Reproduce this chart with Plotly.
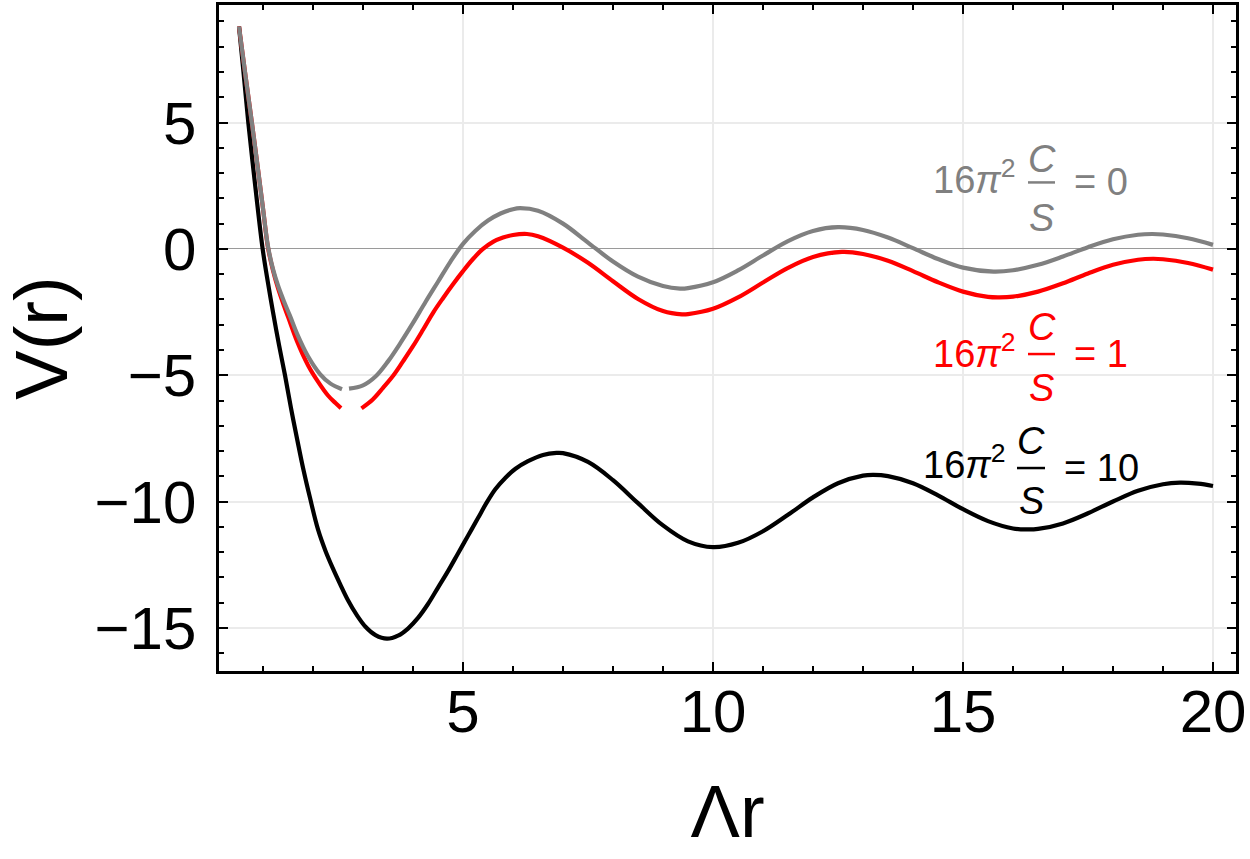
import plotly.graph_objects as go

# ---- data ----
gray_x = [0.52, 0.65, 0.777, 0.9, 1.0, 1.1, 1.2, 1.3, 1.42, 1.54, 1.68, 1.9, 2.14, 2.35, 2.58, None,
          2.72, 3.0, 3.25, 3.5, 3.75, 4.0, 4.25, 4.5, 4.75, 5.0, 5.25, 5.5, 5.75, 6.0, 6.14,
          6.5, 7.0, 7.5, 8.0, 8.5, 9.0, 9.34, 9.5, 10.0, 10.5, 11.0, 11.5, 12.0, 12.5,
          13.0, 13.5, 14.0, 14.5, 15.0, 15.61, 16.0, 16.5, 17.0, 17.5, 18.0, 18.5, 18.78,
          19.0, 19.5, 20.0]
gray_v = [8.8, 6.85, 5.0, 3.15, 1.6, 0.1, -0.8, -1.45, -2.08, -2.65, -3.35, -4.25, -4.95, -5.33, -5.55, None,
          -5.53, -5.4, -5.05, -4.45, -3.72, -2.93, -2.1, -1.3, -0.5, 0.2, 0.72, 1.12, 1.4, 1.57, 1.61,
          1.51, 1.0, 0.25, -0.5, -1.1, -1.47, -1.57, -1.55, -1.32, -0.85, -0.26, 0.31, 0.71, 0.86,
          0.75, 0.45, 0.03, -0.4, -0.74, -0.9, -0.845, -0.63, -0.3, 0.07, 0.38, 0.56, 0.59,
          0.57, 0.42, 0.16]

red_x = [0.52, 0.65, 0.777, 0.9, 1.0, 1.1, 1.2, 1.3, 1.42, 1.54, 1.68, 1.9, 2.1, 2.3, 2.45, 2.56, None,
         2.97, 3.2, 3.4, 3.61, 3.8, 4.0, 4.2, 4.41, 4.6, 4.8, 5.0, 5.2, 5.4, 5.6, 5.8, 6.0, 6.28,
         6.5, 7.0, 7.5, 8.0, 8.5, 9.0, 9.38, 9.5, 10.0, 10.5, 11.0, 11.5, 12.0, 12.58,
         13.0, 13.5, 14.0, 14.5, 15.0, 15.5, 15.73, 16.0, 16.5, 17.0, 17.5, 18.0, 18.5, 18.8,
         19.0, 19.5, 20.0]
red_v = [8.8, 6.85, 5.0, 3.15, 1.6, 0.05, -0.85, -1.55, -2.25, -2.9, -3.65, -4.6, -5.25, -5.8, -6.1, -6.3, None,
         -6.31, -5.95, -5.5, -5.0, -4.45, -3.85, -3.2, -2.5, -1.95, -1.4, -0.88, -0.4, 0.0, 0.28, 0.45, 0.55, 0.59,
         0.5, 0.05, -0.55, -1.28, -1.98, -2.46, -2.59, -2.58, -2.37, -1.92, -1.33, -0.75, -0.32, -0.12,
         -0.2, -0.47, -0.88, -1.32, -1.69, -1.9, -1.92, -1.89, -1.69, -1.36, -0.97, -0.63, -0.43, -0.39,
         -0.41, -0.56, -0.82]

black_x = [0.52, 0.6, 0.706, 0.85, 0.993, 1.1, 1.2, 1.32, 1.44, 1.56, 1.69, 1.81, 1.94, 2.1, 2.25,
           2.4, 2.54, 2.7, 2.88, 3.05, 3.25, 3.48, 3.7, 3.9, 4.1, 4.3, 4.5, 4.7, 4.9, 5.1, 5.3,
           5.47, 5.65, 5.85, 6.05, 6.3, 6.6, 6.87, 7.0, 7.5, 8.0, 8.5, 9.0, 9.5, 10.0, 10.5,
           11.0, 11.5, 12.0, 12.5, 13.0, 13.21, 13.5, 14.0, 14.5, 15.0, 15.5, 16.0, 16.28, 16.5,
           17.0, 17.5, 18.0, 18.5, 19.0, 19.34, 19.7, 20.0]
black_v = [8.8, 7.2, 5.0, 2.4, 0.0, -1.35, -2.5, -3.8, -5.0, -6.3, -7.6, -8.75, -9.85, -11.1, -11.95,
           -12.65, -13.25, -13.9, -14.5, -14.95, -15.28, -15.42, -15.3, -15.02, -14.6, -14.05, -13.4,
           -12.75, -12.05, -11.35, -10.65, -10.05, -9.5, -9.05, -8.7, -8.4, -8.15, -8.07, -8.08,
           -8.43, -9.15, -10.06, -10.94, -11.57, -11.8, -11.63, -11.17, -10.52, -9.83, -9.27,
           -8.97, -8.94, -8.99, -9.27, -9.75, -10.3, -10.77, -11.06, -11.1, -11.08, -10.86,
           -10.46, -9.995, -9.57, -9.31, -9.25, -9.29, -9.38]

x_ticks = [5, 10, 15, 20]
y_ticks = [-15, -10, -5, 0, 5]
label_values = ["0", "1", "10"]
label_colors = ["#808080", "#ff0000", "#000000"]

FONT = "Liberation Sans, Arial, sans-serif"

fig = go.Figure()
for xs, vs, col in [(black_x, black_v, "#000000"), (red_x, red_v, "#ff0000"),
                    (gray_x, gray_v, "#808080")]:
    fig.add_trace(go.Scatter(x=xs, y=vs, mode="lines", connectgaps=False,
                             line=dict(color=col, width=4.2, shape="spline", smoothing=1.0),
                             showlegend=False, hoverinfo="skip"))

# label layout: (left-part right edge, fraction centre, bar half-width, eq left, y line, C y, S y, bar y)
label_pos = [
    (16.1, 16.57, 0.27, 17.18, 2.85, 3.57, 1.22, 2.63),
    (16.1, 16.57, 0.27, 17.18, -4.02, -3.1, -5.49, -4.16),
    (15.9, 16.36, 0.28, 16.98, -8.45, -7.61, -9.96, -8.67),
]
for val, col, (xr, xc, hw, xe, yl, yc, ys, yb) in zip(label_values, label_colors, label_pos):
    f = dict(family=FONT, size=38, color=col)
    fig.add_annotation(x=xr, y=yl, text="16<i>π</i><sup>2</sup>", showarrow=False,
                       xanchor="right", yanchor="middle", font=f)
    fig.add_annotation(x=xc, y=yc, text="<i>C</i>", showarrow=False,
                       xanchor="center", yanchor="middle", font=f)
    fig.add_annotation(x=xc, y=ys, text="<i>S</i>", showarrow=False,
                       xanchor="center", yanchor="middle", font=f)
    fig.add_annotation(x=xe, y=yb, text="= " + val, showarrow=False,
                       xanchor="left", yanchor="middle", font=f)
    fig.add_shape(type="line", x0=xc - hw, x1=xc + hw, y0=yb, y1=yb,
                  line=dict(color=col, width=2.5))

axis_common = dict(
    ticks="inside", ticklen=9, tickwidth=2, tickcolor="black",
    showline=True, linecolor="black", linewidth=2.5, mirror="allticks",
    showgrid=True, gridcolor="#ebebeb", gridwidth=2,
    minor=dict(ticks="inside", ticklen=5, tickwidth=1.5, tickcolor="black", dtick=1,
               showgrid=False),
    tickfont=dict(family=FONT, size=60, color="black"),
)

fig.update_xaxes(range=[0.12, 20.46], tickmode="array", tickvals=x_ticks,
                 zeroline=False, ticklabelstandoff=-14,
                 title=dict(text="Λr", font=dict(family=FONT, size=74, color="black"),
                            standoff=42),
                 **axis_common)
fig.update_yaxes(range=[-16.7, 9.65], tickmode="array", tickvals=y_ticks,
                 zeroline=True, zerolinecolor="#9a9a9a", zerolinewidth=1,
                 ticklabelstandoff=8,
                 title=dict(text="V(r)", font=dict(family=FONT, size=74, color="black"),
                            standoff=14),
                 **axis_common)

fig.update_layout(width=1250, height=859, paper_bgcolor="white", plot_bgcolor="white",
                  margin=dict(l=219, r=14, t=2, b=188))

fig.write_html("out.html")
